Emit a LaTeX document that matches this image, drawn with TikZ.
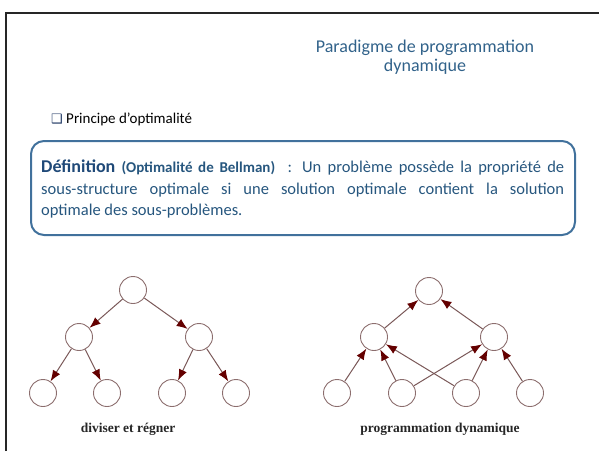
\documentclass[tikz,border=0pt]{standalone}
\usepackage{fontspec}
\setmainfont{Carlito}
\newfontfamily\dejavu{DejaVu Sans}
\newfontfamily\serifbf{Liberation Serif}
\usetikzlibrary{arrows.meta,calc,positioning}
\definecolor{titleblue}{RGB}{49,98,138}
\definecolor{boxblue}{RGB}{65,113,156}
\definecolor{textblue}{RGB}{38,86,126}
\definecolor{defblue}{RGB}{31,73,120}
\definecolor{bulletblue}{RGB}{31,56,100}
\definecolor{nodegray}{RGB}{140,110,110}
\definecolor{edgegray}{RGB}{122,88,88}
\definecolor{darkred}{RGB}{100,0,0}
\tikzset{
  cnode/.style={circle, draw=nodegray, line width=0.9pt, minimum size=27pt, inner sep=0pt},
  arr/.style={draw=edgegray, line width=1pt, -{Latex[length=11pt,width=8.5pt,color=darkred]}},
  caption/.style={font=\serifbf\bfseries\fontsize{13.5}{15}\selectfont, text=black!85}
}
\begin{document}
\begin{tikzpicture}[x=1pt,y=-1pt]
    \useasboundingbox (0,0) rectangle (599,451);
    % frame
    \draw[line width=2pt, black!85] (6,451) -- (6,13) -- (599,13);
    % title
    \node[text=titleblue, align=center, font=\fontsize{18}{19.5}\selectfont] (title) at (425,57)
        {Paradigme de programmation\\dynamique};
    \node[anchor=base west, inner sep=0pt, font=\fontsize{15}{17}\selectfont] (principe) at (51,123)
        {{\dejavu\fontsize{13}{14}\selectfont\color{bulletblue}❑}~Principe d’optimalité};
    % definition box
    \draw[boxblue, line width=2pt, rounded corners=13pt] (31,141) rectangle (575,235);
    \node[anchor=north west, inner sep=0pt, text width=523pt, align=justify, text=textblue,
          font=\fontsize{16.5}{21.5}\selectfont] (def) at (41,160)
        {{\color{defblue}\fontsize{18}{21.5}\selectfont\bfseries Définition} {\fontsize{15}{21.5}\selectfont\bfseries (Optimalité de Bellman)}~~: Un problème possède la propriété de\linebreak
         sous-structure optimale si une solution optimale contient la solution\linebreak
         optimale des sous-problèmes.};
    % diviser et regner
    \node[cnode] (d0) at (133,290) {};
    \node[cnode] (d1) at (79,337) {};
    \node[cnode] (d2) at (199,337) {};
    \node[cnode] (d3) at (43,393) {};
    \node[cnode] (d4) at (107,393) {};
    \node[cnode] (d5) at (172,393) {};
    \node[cnode] (d6) at (236,393) {};
    \draw[arr] (d0) -- (d1);
    \draw[arr] (d0) -- (d2);
    \draw[arr] (d1) -- (d3);
    \draw[arr] (d1) -- (d4);
    \draw[arr] (d2) -- (d5);
    \draw[arr] (d2) -- (d6);
    \node[caption] (dlabel) at (128,429) {diviser et régner};
    % programmation dynamique
    \node[cnode] (p0) at (429,291) {};
    \node[cnode] (p1) at (374,337) {};
    \node[cnode] (p2) at (494,337) {};
    \node[cnode] (p3) at (337,393) {};
    \node[cnode] (p4) at (402,393) {};
    \node[cnode] (p5) at (466,393) {};
    \node[cnode] (p6) at (530,393) {};
    \draw[arr] (p1) -- (p0);
    \draw[arr] (p2) -- (p0);
    \draw[arr] (p3) -- (p1);
    \draw[arr] (p4) -- (p1);
    \draw[arr] (p4) -- (p2);
    \draw[arr] (p5) -- (p1);
    \draw[arr] (p5) -- (p2);
    \draw[arr] (p6) -- (p2);
    \node[caption] (plabel) at (440,429) {programmation dynamique};
\end{tikzpicture}
\end{document}
